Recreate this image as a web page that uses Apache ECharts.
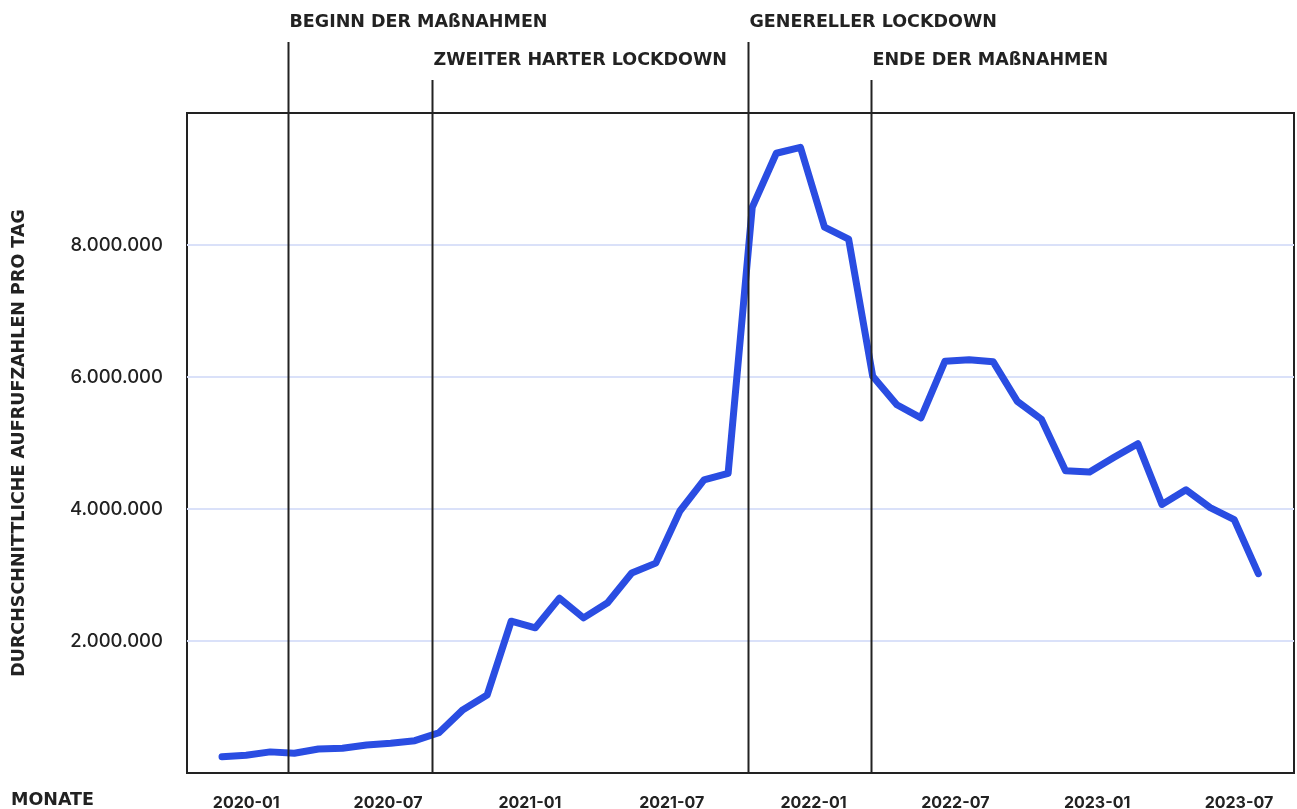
<!DOCTYPE html>
<html>
<head>
<meta charset="utf-8">
<script src="https://cdn.jsdelivr.net/npm/echarts@6/dist/echarts.min.js"></script>
<style>
  html, body { margin: 0; padding: 0; background: #fff; }
  #main { width: 1297px; height: 809px; }
</style>
</head>
<body>
<div id="main"></div>
<script>
const months = [
  '2019-12', '2020-01', '2020-02', '2020-03', '2020-04', '2020-05', '2020-06', '2020-07', '2020-08', '2020-09', '2020-10', '2020-11',
  '2020-12', '2021-01', '2021-02', '2021-03', '2021-04', '2021-05', '2021-06', '2021-07', '2021-08', '2021-09', '2021-10', '2021-11',
  '2021-12', '2022-01', '2022-02', '2022-03', '2022-04', '2022-05', '2022-06', '2022-07', '2022-08', '2022-09', '2022-10', '2022-11',
  '2022-12', '2023-01', '2023-02', '2023-03', '2023-04', '2023-05', '2023-06', '2023-07'
];
const dailyViews = [
  247000, 270000, 320000, 300000, 364000, 375000, 425000, 450000, 490000, 610000, 960000, 1180000,
  2300000, 2200000, 2650000, 2350000, 2580000, 3030000, 3180000, 3970000, 4440000, 4540000, 8570000, 9390000,
  9480000, 8270000, 8090000, 6010000, 5580000, 5380000, 6240000, 6260000, 6230000, 5630000, 5360000, 4580000,
  4560000, 4780000, 4990000, 4070000, 4290000, 4020000, 3840000, 3020000
];
const xTickLabels = ['2020-01', '2020-07', '2021-01', '2021-07', '2022-01', '2022-07', '2023-01', '2023-07'];
const yTicks = [2000000, 4000000, 6000000, 8000000];
// month offsets from 2019-12 on the calendar axis, row 0 = upper label
const eventNames = ['BEGINN DER MAßNAHMEN', 'ZWEITER HARTER LOCKDOWN', 'GENERELLER LOCKDOWN', 'ENDE DER MAßNAHMEN'];
const eventMonths = [2.78, 8.87, 22.24, 27.43];
const eventRows = [0, 1, 0, 1];

const numFont = 'Inter';
const capsFont = '"DejaVu Sans"';
const ink = '#222222';

const chart = echarts.init(document.getElementById('main'));

const fmt = v => String(v).replace(/\B(?=(\d{3})+(?!\d))/g, '.');

chart.setOption({
  animation: false,
  grid: {
    left: 187, right: 3, top: 113, bottom: 36,
    outerBoundsMode: 'none',
    show: true, borderColor: ink, borderWidth: 2, backgroundColor: 'transparent'
  },
  xAxis: [
    {
      // data axis, one step per month
      type: 'value', min: -1.453, max: 44.48, show: false
    },
    {
      // calendar axis for the tick labels
      type: 'value', min: -1.509, max: 45.33, position: 'bottom',
      axisLine: { show: false }, axisTick: { show: false }, splitLine: { show: false },
      axisLabel: {
        customValues: xTickLabels.map(l => months.indexOf(l)),
        formatter: v => months[v],
        margin: 22,
        color: ink, fontFamily: numFont, fontWeight: 700, fontSize: 16
      }
    }
  ],
  yAxis: {
    type: 'value', min: 0, max: 10000000, interval: 2000000,
    name: 'DURCHSCHNITTLICHE AUFRUFZAHLEN PRO TAG',
    nameLocation: 'middle', nameRotate: 90, nameGap: 159,
    nameTextStyle: { color: ink, fontFamily: capsFont, fontWeight: 'bold', fontSize: 17.5 },
    axisLine: { show: false }, axisTick: { show: false },
    splitLine: { show: true, showMinLine: false, showMaxLine: false, lineStyle: { color: '#dae1f9', width: 2 } },
    axisLabel: {
      margin: 24, color: ink, fontFamily: numFont, fontWeight: 500, fontSize: 18.5,
      formatter: v => (yTicks.indexOf(v) >= 0 ? fmt(v) : '')
    }
  },
  graphic: [{
    type: 'text', left: 11, top: 791,
    style: { text: 'MONATE', fill: ink, font: 'bold 17.5px ' + capsFont }
  }],
  series: [
    {
      type: 'line', xAxisIndex: 0, yAxisIndex: 0,
      data: dailyViews.map((v, i) => [i, v]),
      showSymbol: false, symbol: 'none',
      lineStyle: { color: '#2a4de2', width: 7, cap: 'round', join: 'round' },
      z: 3
    },
    {
      type: 'custom', xAxisIndex: 1, yAxisIndex: 0, clip: false, silent: true, z: 4,
      data: eventMonths.map((m, i) => [m, eventRows[i], eventNames[i]]),
      renderItem: (params, api) => {
        const x = Math.round(api.coord([api.value(0), 0])[0]) + 0.5;
        const bottom = params.coordSys.y + params.coordSys.height;
        const top = api.value(1) === 0 ? 42 : 80;
        return {
          type: 'group',
          children: [
            { type: 'line', shape: { x1: x, y1: top, x2: x, y2: bottom }, style: { stroke: ink, lineWidth: 2 } },
            {
              type: 'text', x: x + 1, y: top - 20,
              style: { text: api.value(2), fill: ink, font: 'bold 17.5px ' + capsFont, verticalAlign: 'middle', align: 'left' }
            }
          ]
        };
      }
    }
  ]
});
</script>
</body>
</html>
